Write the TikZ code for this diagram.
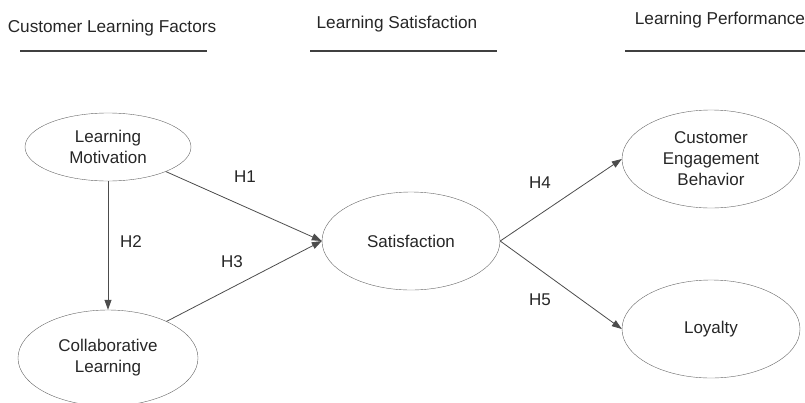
\documentclass[tikz,border=0pt]{standalone}
\usepackage{fontspec}
\setmainfont{Liberation Sans}
\usetikzlibrary{shapes,arrows.meta,positioning,calc}

\tikzset{
  construct/.style={draw=black!60, ellipse, inner sep=0pt, align=center,
    font=\fontsize{17}{21}\selectfont, text=black!85},
  link/.style={draw=black!70, line width=0.8pt, -{Triangle[length=10pt,width=7pt]}},
  hyp/.style={font=\fontsize{17}{20}\selectfont, text=black!85},
  heading/.style={anchor=base, font=\fontsize{17.2}{20}\selectfont, text=black!85},
  rule/.style={draw=black!75, line width=1.5pt}
}

\begin{document}
\begin{tikzpicture}[x=1pt,y=-1pt]
    \useasboundingbox (0,0) rectangle (805,402);

    % headings
    \node[heading] (hfactors) at (112,32) {Customer Learning Factors};
    \node[heading] (hsatis) at (397,28) {Learning Satisfaction};
    \node[heading] (hperf) at (720,24) {Learning Performance};
    \draw[rule] (20,51) -- (207,51);
    \draw[rule] (310,51) -- (497,51);
    \draw[rule] (625,51) -- (805,51);

    % constructs
    \node[construct, minimum width=166pt, minimum height=68pt] (motiv) at (108,147) {Learning\\Motivation};
    \node[construct, minimum width=180pt, minimum height=96pt] (collab) at (108,358) {Collaborative\\Learning};
    \node[construct, minimum width=178pt, minimum height=98pt] (satis) at (411,241) {Satisfaction};
    \node[construct, minimum width=178pt, minimum height=98pt] (engage) at (711,159) {Customer\\Engagement\\Behavior};
    \node[construct, minimum width=178pt, minimum height=98pt] (loyal) at (711,329) {Loyalty};

    % hypotheses
    \draw[link] (motiv.south) -- (collab.north);
    \draw[link] (motiv.-23) -- (satis.west);
    \draw[link] (collab.32) -- (satis.west);
    \draw[link] (satis.east) -- (engage.west);
    \draw[link] (satis.east) -- (loyal.west);

    \node[hyp] (h1) at (245,177) {H1};
    \node[hyp] (h2) at (131,242) {H2};
    \node[hyp] (h3) at (232,262) {H3};
    \node[hyp] (h4) at (540,183) {H4};
    \node[hyp] (h5) at (540,300) {H5};
\end{tikzpicture}
\end{document}
